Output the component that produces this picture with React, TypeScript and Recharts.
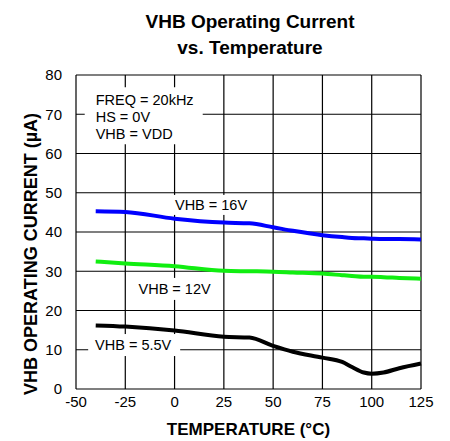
import React from 'react';
import { LineChart, Line, XAxis, YAxis, CartesianGrid, ReferenceDot, Label } from 'recharts';

const temps = [-40, -25, 0, 25, 38, 50, 60, 75, 85, 90, 96, 100, 106, 114, 125];
const vhb16 = [45.3, 45.1, 43.4, 42.4, 42.2, 41.2, 40.3, 39.2, 38.7, 38.5, 38.4, 38.3, 38.2, 38.2, 38.1];
const vhb12 = [32.5, 32.0, 31.3, 30.1, 30.0, 29.9, 29.7, 29.4, 29.0, 28.8, 28.6, 28.6, 28.5, 28.3, 28.1];
const vhb55 = [16.2, 15.9, 14.9, 13.3, 13.1, 11.0, 9.5, 8.0, 6.9, 5.6, 4.2, 3.9, 4.2, 5.3, 6.5];

const xTicks = [-50, -25, 0, 25, 50, 75, 100, 125];
const yTicks = [0, 10, 20, 30, 40, 50, 60, 70, 80];

const noteLines = [['FREQ = 20kHz', 'HS = 0V', 'VHB = VDD'], ['VHB = 16V'], ['VHB = 12V'], ['VHB = 5.5V']];
const noteX = [-40, 18.5, 0, -21];
const noteY = [70, 46.9, 25.5, 11.2];

const data = temps.map((t, i) => ({ t, a: vhb16[i], b: vhb12[i], c: vhb55[i] }));

const FONT = '"Liberation Sans", Arial, Helvetica, sans-serif';

// box geometry relative to anchor (style only)
const boxes = [
  { x: -11, y: -27, w: 118, h: 57, anchor: 'start', dy: [-9.25, 7.75, 24.75] },
  { x: -40, y: -10, w: 80, h: 20, anchor: 'middle', dy: [5.2] },
  { x: -41, y: -11, w: 82, h: 22, anchor: 'middle', dy: [5.2] },
  { x: -45, y: -11, w: 92, h: 22, anchor: 'middle', dy: [5.2] },
];

const makeShape = (idx: number) => (props: any) => {
  const { cx, cy } = props;
  const b = boxes[idx];
  return (
    <g>
      <rect x={cx + b.x} y={cy + b.y} width={b.w} height={b.h} fill="#fff" />
      {noteLines[idx].map((ln, j) => (
        <text key={j} x={cx} y={cy + b.dy[j]} textAnchor={b.anchor} fontSize={14.5} fontFamily={FONT} fill="#000">
          {ln}
        </text>
      ))}
    </g>
  );
};

export default function App() {
  return (
    <div style={{ position: 'absolute', left: 0, top: 0, width: 450, height: 441, background: '#fff' }}>
      <div
        style={{
          position: 'absolute',
          left: 0,
          top: 9,
          width: 500,
          textAlign: 'center',
          fontFamily: FONT,
          fontWeight: 'bold',
          fontSize: 19,
          lineHeight: '26px',
          color: '#000',
        }}
      >
        VHB Operating Current
        <br />
        vs. Temperature
      </div>
      <LineChart width={450} height={441} data={data} margin={{ top: 75, right: 29, bottom: 22, left: 16 }}>
        <CartesianGrid stroke="#000" strokeWidth={1.2} horizontalValues={yTicks} verticalValues={xTicks} />
        <XAxis
          dataKey="t"
          type="number"
          domain={[-50, 125]}
          ticks={xTicks}
          axisLine={false}
          tickLine={false}
          tickMargin={1}
          height={30}
          tick={{ fill: '#000', fontSize: 15, fontFamily: FONT }}
        >
          <Label value="TEMPERATURE (°C)" position="bottom" offset={4} fill="#000" fontSize={17} fontWeight="bold" fontFamily={FONT} />
        </XAxis>
        <YAxis
          type="number"
          domain={[0, 80]}
          ticks={yTicks}
          axisLine={false}
          tickLine={false}
          tickMargin={8}
          width={60}
          tick={{ fill: '#000', fontSize: 15, fontFamily: FONT }}
        >
          <Label
            content={() => {
              const cxl = 31;
              const cyl = 254;
              return (
                <text
                  x={cxl}
                  y={cyl}
                  transform={`rotate(-90, ${cxl}, ${cyl})`}
                  textAnchor="middle"
                  dominantBaseline="central"
                  fontSize={18}
                  fontWeight="bold"
                  fontFamily={FONT}
                  fill="#000"
                >
                  VHB OPERATING CURRENT (µA)
                </text>
              );
            }}
          />
        </YAxis>
        {noteX.map((x, i) => (
          <ReferenceDot key={i} x={x} y={noteY[i]} r={0} shape={makeShape(i)} ifOverflow="visible" />
        ))}
        <Line type="monotone" dataKey="a" stroke="#0000FF" strokeWidth={4} dot={false} isAnimationActive={false} />
        <Line type="monotone" dataKey="b" stroke="#11EE11" strokeWidth={4} dot={false} isAnimationActive={false} />
        <Line type="monotone" dataKey="c" stroke="#000000" strokeWidth={4} dot={false} isAnimationActive={false} />
      </LineChart>
    </div>
  );
}
